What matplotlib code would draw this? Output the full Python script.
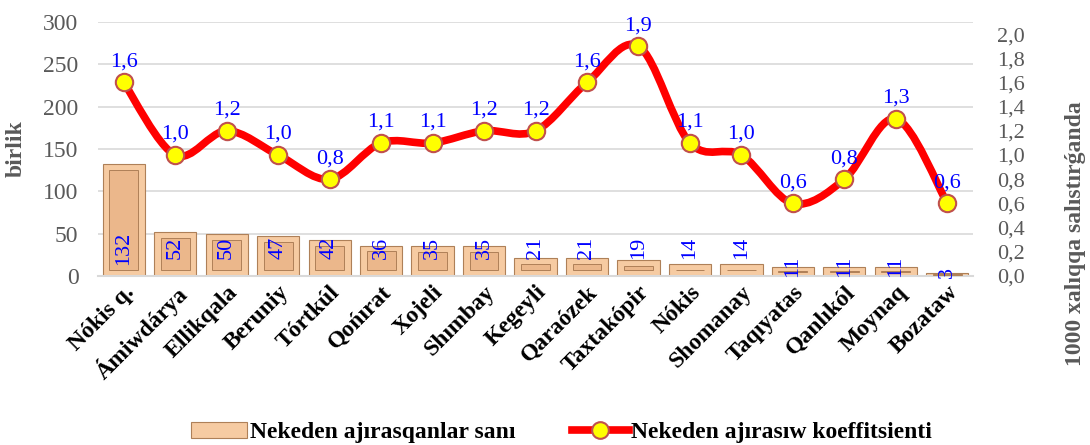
import matplotlib
matplotlib.use('Agg')
import matplotlib.pyplot as plt
import numpy as np
from matplotlib.path import Path
from matplotlib.patches import PathPatch, Patch
from matplotlib.lines import Line2D
from matplotlib.ticker import FuncFormatter

# Data
districts = ['Nókis q.', 'Ámiwdárya', 'Ellikqala', 'Beruniy', 'Tórtkúl', 'Qońırat',
             'Xojeli', 'Shımbay', 'Kegeyli', 'Qaraózek', 'Taxtakópir', 'Nókis',
             'Shomanay', 'Taqıyatas', 'Qanlıkól', 'Moynaq', 'Bozataw']
divorces = [132, 52, 50, 47, 42, 36, 35, 35, 21, 21, 19, 14, 14, 11, 11, 11, 3]
coefficient = [1.6, 1.0, 1.2, 1.0, 0.8, 1.1, 1.1, 1.2, 1.2, 1.6, 1.9, 1.1, 1.0, 0.6, 0.8, 1.3, 0.6]

bar_label = 'Nekeden ajırasqanlar sanı'
line_label = 'Nekeden ajırasıw koeffitsienti'

plt.rcParams['font.family'] = ['Liberation Serif', 'DejaVu Serif']
gray = '#595959'
bar_face = '#F6CBA2'
bar_inner = '#EBB78B'
bar_edge = '#AE8058'

fig = plt.figure(figsize=(10.9, 4.45), dpi=100)
ax = fig.add_axes([0.0899, 0.3798, 0.8028, 0.5708])
ax2 = ax.twinx()

x = np.arange(len(districts))
h = np.array(divorces, dtype=float)

# bars with a simple bevel look: outer frame + inner panel
ax.bar(x, h, width=0.82, color=bar_face, edgecolor=bar_edge, linewidth=0.8, zorder=2)
inset = 7.0
inner_h = np.maximum(h - 2 * inset, 0.6)
inner_b = np.where(h > 2 * inset, inset, h / 2 - 0.3)
ax.bar(x, inner_h, bottom=inner_b, width=0.56, color=bar_inner, edgecolor=bar_edge,
       linewidth=0.7, zorder=3)

for xi, v in zip(x, divorces):
    ypos = 33 if v > 12 else v + 1
    ax.text(xi, ypos, str(v), rotation=90, ha='center', va='center',
            color='#0000FF', fontsize=16, zorder=5)

ax.set_xlim(-0.5, len(districts) - 0.5)
ax.set_ylim(0, 300)
ax.set_yticks(range(0, 301, 50))
ax.grid(axis='y', color='#D9D9D9', linewidth=1.2, zorder=0)
ax.set_axisbelow(True)
for s in ['top', 'right', 'left']:
    ax.spines[s].set_visible(False)
ax.spines['bottom'].set_color('#D9D9D9')
ax.spines['bottom'].set_linewidth(1.5)
ax.tick_params(axis='y', length=0, pad=14, labelsize=17, labelcolor=gray)
ax.tick_params(axis='x', length=0, pad=4)
ax.set_xticks(x)
ax.set_xticklabels(districts, rotation=45, ha='right', va='top',
                   rotation_mode='anchor', fontsize=17, fontweight='bold')
ax.set_ylabel('birlik', fontsize=17, fontweight='bold', color=gray, labelpad=12)

# smoothed line (Bezier path through the data points)
c = np.array(coefficient)
verts = [(x[0], c[0])]
codes = [Path.MOVETO]
n = len(x)
for i in range(n - 1):
    p0 = np.array([x[max(i - 1, 0)], c[max(i - 1, 0)]])
    p1 = np.array([x[i], c[i]])
    p2 = np.array([x[i + 1], c[i + 1]])
    p3 = np.array([x[min(i + 2, n - 1)], c[min(i + 2, n - 1)]])
    c1 = p1 + (p2 - p0) / 6
    c2 = p2 - (p3 - p1) / 6
    verts += [tuple(c1), tuple(c2), tuple(p2)]
    codes += [Path.CURVE4] * 3
ax2.add_patch(PathPatch(Path(verts, codes), facecolor='none', edgecolor='#FF0000',
                        linewidth=5.5, capstyle='round', joinstyle='round', zorder=3))
ax2.plot(x, c, linestyle='none', marker='o', markersize=12.5, markerfacecolor='#FFFF00',
         markeredgecolor='#C0504D', markeredgewidth=1.5, zorder=4)
for xi, v in zip(x, coefficient):
    ax2.annotate(f'{v:.1f}'.replace('.', ','), (xi, v), xytext=(0, 8),
                 textcoords='offset points', ha='center', va='bottom',
                 color='#0000FF', fontsize=16, zorder=5)

ax2.set_ylim(0, 2.1)
ax2.set_yticks(np.arange(0, 2.01, 0.2))
ax2.yaxis.set_major_formatter(FuncFormatter(lambda v, p: f'{v:.1f}'.replace('.', ',')))
ax2.tick_params(axis='y', length=0, pad=17, labelsize=16, labelcolor=gray)
for s in ax2.spines.values():
    s.set_visible(False)

fig.text(0.987, 0.474, '1000 xalıqqa salıstırǵanda', rotation=90, ha='center', va='center',
         fontsize=17, fontweight='bold', color=gray)

handles = [Patch(facecolor=bar_face, edgecolor=bar_edge, linewidth=0.8),
           Line2D([0], [0], color='#FF0000', linewidth=5.5, marker='o', markersize=12,
                  markerfacecolor='#FFFF00', markeredgecolor='#C0504D', markeredgewidth=1.5)]
fig.legend(handles, [bar_label, line_label], loc='center', bbox_to_anchor=(0.515, 0.028),
           ncol=2, frameon=False, handlelength=2.4, handletextpad=0.1, columnspacing=2.4,
           prop={'weight': 'bold', 'size': 17})

fig.savefig('out.png', dpi=100)
